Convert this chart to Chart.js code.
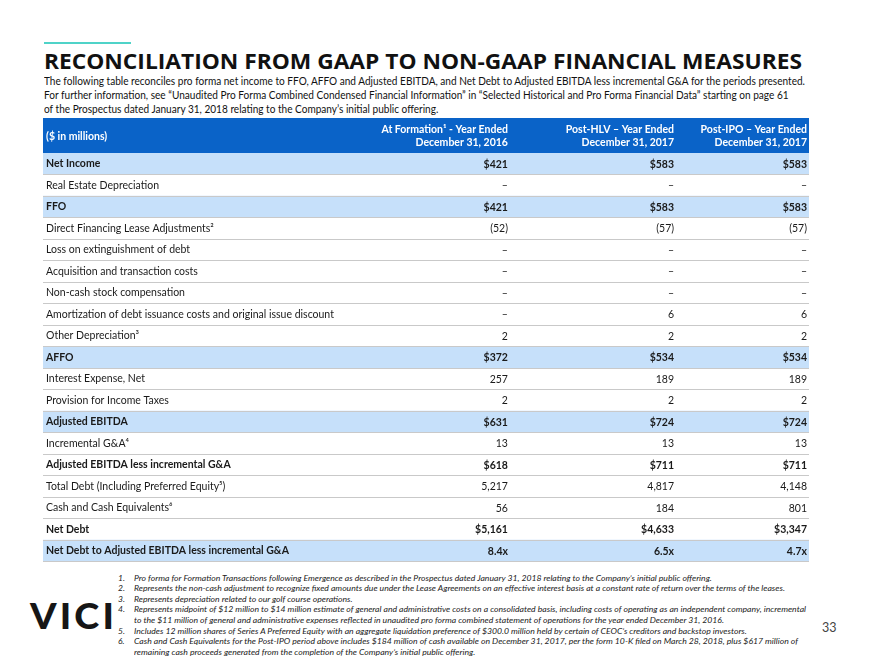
<!DOCTYPE html>
<html>
<head>
<meta charset="utf-8">
<title>Reconciliation from GAAP to Non-GAAP</title>
<script src="https://cdn.jsdelivr.net/npm/chart.js@4.4.1/dist/chart.umd.min.js"></script>
<script>
// Tablo verileri
const rowLabels = [
  'Net Income',
  'Real Estate Depreciation',
  'FFO',
  'Direct Financing Lease Adjustments²',
  'Loss on extinguishment of debt',
  'Acquisition and transaction costs',
  'Non-cash stock compensation',
  'Amortization of debt issuance costs and original issue discount',
  'Other Depreciation³',
  'AFFO',
  'Interest Expense, Net',
  'Provision for Income Taxes',
  'Adjusted EBITDA',
  'Incremental G&A⁴',
  'Adjusted EBITDA less incremental G&A',
  'Total Debt (Including Preferred Equity⁵)',
  'Cash and Cash Equivalents⁶',
  'Net Debt',
  'Net Debt to Adjusted EBITDA less incremental G&A'
];
const atFormation2016 = ['$421', '–', '$421', '(52)', '–', '–', '–', '–', '2', '$372', '257', '2', '$631', '13', '$618', '5,217', '56', '$5,161', '8.4x'];
const postHlv2017 = ['$583', '–', '$583', '(57)', '–', '–', '–', '6', '2', '$534', '189', '2', '$724', '13', '$711', '4,817', '184', '$4,633', '6.5x'];
const postIpo2017 = ['$583', '–', '$583', '(57)', '–', '–', '–', '6', '2', '$534', '189', '2', '$724', '13', '$711', '4,148', '801', '$3,347', '4.7x'];
const shadedRows = [1, 0, 1, 0, 0, 0, 0, 0, 0, 1, 0, 0, 1, 0, 0, 0, 0, 0, 1];
const boldRows = [1, 0, 1, 0, 0, 0, 0, 0, 0, 1, 0, 0, 1, 0, 1, 0, 0, 1, 1];
const columnHeads = [
  ['At Formation¹ - Year Ended', 'December 31, 2016'],
  ['Post-HLV – Year Ended', 'December 31, 2017'],
  ['Post-IPO – Year Ended', 'December 31, 2017']
];
const unitLabel = '($ in millions)';

const introLines = [
  'The following table reconciles pro forma net income to FFO, AFFO and Adjusted EBITDA, and Net Debt to Adjusted EBITDA less incremental G&A for the periods presented.',
  'For further information, see “Unaudited Pro Forma Combined Condensed Financial Information” in “Selected Historical and Pro Forma Financial Data” starting on page 61',
  'of the Prospectus dated January 31, 2018 relating to the Company’s initial public offering.'
];
const notes = [
  ['1.', 'Pro forma for Formation Transactions following Emergence as described in the Prospectus dated January 31, 2018 relating to the Company’s initial public offering.'],
  ['2.', 'Represents the non-cash adjustment to recognize fixed amounts due under the Lease Agreements on an effective interest basis at a constant rate of return over the terms of the leases.'],
  ['3.', 'Represents depreciation related to our golf course operations.'],
  ['4.', 'Represents midpoint of $12 million to $14 million estimate of general and administrative costs on a consolidated basis, including costs of operating as an independent company, incremental'],
  ['', 'to the $11 million of general and administrative expenses reflected in unaudited pro forma combined statement of operations for the year ended December 31, 2016.'],
  ['5.', 'Includes 12 million shares of Series A Preferred Equity with an aggregate liquidation preference of $300.0 million held by certain of CEOC’s creditors and backstop investors.'],
  ['6.', 'Cash and Cash Equivalents for the Post-IPO period above includes $184 million of cash available on December 31, 2017, per the form 10-K filed on March 28, 2018, plus $617 million of'],
  ['', 'remaining cash proceeds generated from the completion of the Company’s initial public offering.']
];

// Sütun hizaları (x ekseni 0..1)
const colRight = [0.607, 0.8238, 0.9974];
const FONT = 'Lato, "Open Sans", sans-serif';
const CELL_SIZE = 10.5;
</script>
<style>
  html, body { margin: 0; padding: 0; background: #fff; }
  body { width: 880px; height: 660px; position: relative; overflow: hidden; font-family: Lato, "Open Sans", sans-serif; color: #111; }
  .teal { position: absolute; left: 44px; top: 42px; width: 87px; height: 2px; background: #4fd3c8; }
  .fit { position: absolute; white-space: nowrap; transform-origin: 0 0; display: inline-block; }
  #title { left: 44px; top: 47px; font-family: "Open Sans", sans-serif; font-weight: 700; font-size: 22px; line-height: 26px; color: #111; }
  .intro { left: 44px; font-size: 11.5px; line-height: 14px; color: #111; }
  #tableBox { position: absolute; left: 43px; top: 118px; width: 766px; height: 453px; }
  .note { font-style: italic; font-size: 8.5px; line-height: 10.6px; color: #222; }
  .num { position: absolute; left: 118px; font-style: italic; font-size: 8.5px; line-height: 10.6px; color: #222; }
  #logo { left: 30px; top: 596px; font-family: Lato, sans-serif; font-weight: 900; font-size: 36px; line-height: 38px; letter-spacing: 3px; color: #161616; }
  #page { position: absolute; left: 822px; top: 620px; font-size: 12.5px; line-height: 16px; color: #444; }
</style>
</head>
<body>
<div class="teal"></div>
<div id="title" class="fit">RECONCILIATION FROM GAAP TO NON-GAAP FINANCIAL MEASURES</div>
<div id="tableBox"><canvas id="reconTable" width="766" height="453"></canvas></div>
<div id="logo" class="fit">VICI</div>
<div id="page">33</div>
<script>
  function fitTo(el, w) {
    el.style.transform = '';
    const nat = el.getBoundingClientRect().width;
    const s = w / nat;
    el.style.transform = 'scaleX(' + s + ')';
    return s;
  }

  document.addEventListener('DOMContentLoaded', function () {
    // Başlık ve açıklama satırları
    fitTo(document.getElementById('title'), 758);

    const introEls = introLines.map((t, i) => {
      const d = document.createElement('div');
      d.className = 'fit intro';
      d.style.top = (74 + i * 14) + 'px';
      d.textContent = t;
      document.body.appendChild(d);
      return d;
    });
    const introScale = fitTo(introEls[0], 761);
    introEls.slice(1).forEach(d => { d.style.transform = 'scaleX(' + introScale + ')'; });

    // Dipnotlar
    const noteEls = notes.map((n, i) => {
      const top = 572.5 + i * 10.6;
      if (n[0]) {
        const s = document.createElement('div');
        s.className = 'num';
        s.style.top = top + 'px';
        s.textContent = n[0];
        document.body.appendChild(s);
      }
      const d = document.createElement('div');
      d.className = 'fit note';
      d.style.left = '134px';
      d.style.top = top + 'px';
      d.textContent = n[1];
      document.body.appendChild(d);
      return d;
    });
    const noteScale = fitTo(noteEls[3], 672);
    noteEls.forEach((d, i) => { if (i !== 3) d.style.transform = 'scaleX(' + noteScale + ')'; });

    fitTo(document.getElementById('logo'), 87);

    drawTable();
  });

  function drawTable() {
    const columns = [atFormation2016, postHlv2017, postIpo2017];

    const tableText = {
      id: 'tableText',
      afterDraw(chart) {
        const ctx = chart.ctx;
        const xs = chart.scales.x;
        const ys = chart.scales.y;
        const area = chart.chartArea;

        // Başlık şeridi
        ctx.save();
        ctx.fillStyle = '#0a63c8';
        ctx.fillRect(xs.left, 0, xs.right - xs.left, area.top);
        ctx.fillStyle = '#ffffff';
        ctx.font = 'bold ' + CELL_SIZE + 'px ' + FONT;
        ctx.textBaseline = 'middle';
        ctx.textAlign = 'left';
        ctx.fillText(unitLabel, xs.left + 3, area.top / 2 + 1);
        ctx.textAlign = 'right';
        columnHeads.forEach((h, j) => {
          const x = xs.getPixelForValue(colRight[j]);
          ctx.fillText(h[0], x, 11.5);
          ctx.fillText(h[1], x, 25);
        });

        // Hücre değerleri
        ctx.fillStyle = '#1a1a1a';
        rowLabels.forEach((lbl, i) => {
          const y = ys.getPixelForValue(i) + 0.5;
          ctx.font = (boldRows[i] ? 'bold ' : '') + CELL_SIZE + 'px ' + FONT;
          columns.forEach((col, j) => {
            ctx.fillText(col[i], xs.getPixelForValue(colRight[j]), y);
          });
        });
        ctx.restore();
      }
    };

    new Chart(document.getElementById('reconTable'), {
      type: 'bar',
      data: {
        labels: rowLabels,
        datasets: [{
          label: 'shade',
          data: shadedRows.map(s => (s ? 1 : null)),
          backgroundColor: '#c6e0fa',
          borderWidth: 0,
          barPercentage: 1,
          categoryPercentage: 1
        }]
      },
      options: {
        indexAxis: 'y',
        responsive: false,
        animation: false,
        devicePixelRatio: 1,
        layout: { padding: { top: 35, left: 0, right: 0, bottom: 0 } },
        plugins: {
          legend: { display: false },
          tooltip: { enabled: false }
        },
        scales: {
          x: { type: 'linear', min: 0, max: 1, display: false },
          y: {
            type: 'category',
            offset: true,
            border: { display: false },
            grid: {
              offset: true,
              drawTicks: false,
              lineWidth: 1,
              z: 1,
              color: (c) => (c.index === 0 || c.index === rowLabels.length ? 'rgba(0,0,0,0)' : '#c9c9c9')
            },
            ticks: {
              mirror: true,
              padding: 3,
              z: 2,
              color: '#1a1a1a',
              autoSkip: false,
              font: (c) => ({ family: FONT, size: CELL_SIZE, weight: boldRows[c.index] ? 'bold' : 'normal' })
            },
            afterFit: (s) => { s.width = 0; }
          }
        }
      },
      plugins: [tableText]
    });
  }
</script>
</body>
</html>
